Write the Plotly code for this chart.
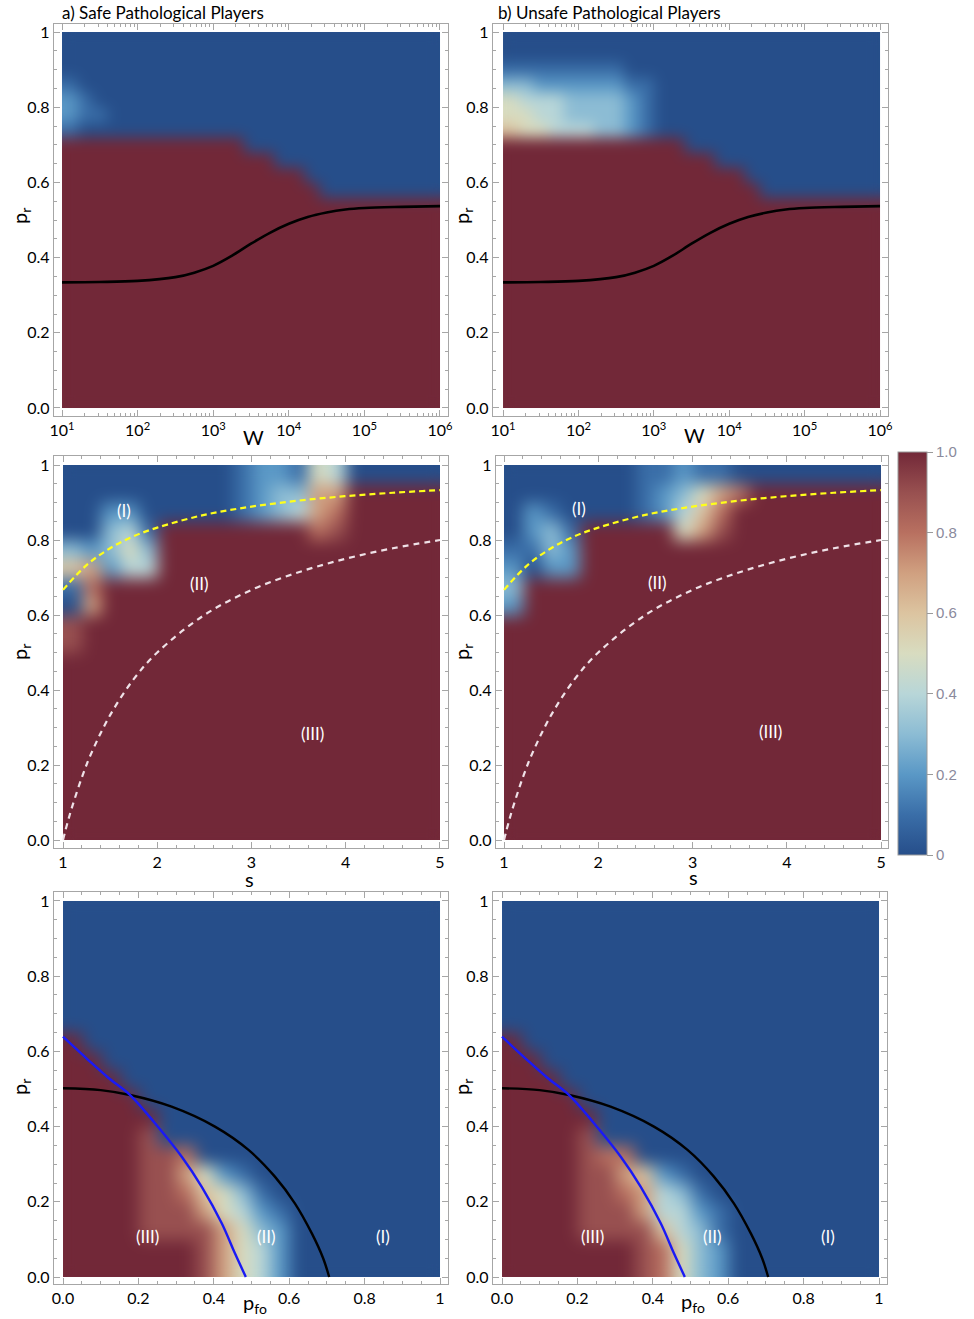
import plotly.graph_objects as go

FIG_W, FIG_H = 974, 1319
FONT = "Lato"

# ---------------- tick labels ----------------
PR_TICKS = [0, 0.2, 0.4, 0.6, 0.8, 1]
PR_TICKTEXT = ["0.0", "0.2", "0.4", "0.6", "0.8", "1"]
W_EXP_TICKS = [1, 2, 3, 4, 5, 6]
W_TICKTEXT = ["10<sup>1</sup>", "10<sup>2</sup>", "10<sup>3</sup>",
              "10<sup>4</sup>", "10<sup>5</sup>", "10<sup>6</sup>"]
S_TICKS = [1, 2, 3, 4, 5]
S_TICKTEXT = ["1", "2", "3", "4", "5"]
PFO_TICKS = [0, 0.2, 0.4, 0.6, 0.8, 1]
PFO_TICKTEXT = ["0.0", "0.2", "0.4", "0.6", "0.8", "1"]
CB_TICKS = [0, 0.2, 0.4, 0.6, 0.8, 1]
CB_TICKTEXT = ["0", "0.2", "0.4", "0.6", "0.8", "1.0"]

# ---------------- heat-map grids ----------------
# one character per cell: "0".."9" -> 0.0..0.9, "X" -> 1.0 ; rows listed from top (p_r high) to bottom
LEVEL = {"0": 0.0, "1": 0.1, "2": 0.2, "3": 0.3, "4": 0.4, "5": 0.5,
         "6": 0.6, "7": 0.7, "8": 0.8, "9": 0.9, "X": 1.0}

# W panels: 25 columns log10(W) centres 1.1..5.9 (step 0.2), 25 rows p_r centres 0.98..0.02 (step 0.04)
W_X0, W_DX = 1.1, 0.2
W_Y0, W_DY = 0.02, 0.04
GRID_A = [
    "0000000000000000000000000",
    "0000000000000000000000000",
    "0000000000000000000000000",
    "1000000000000000000000000",
    "2100000000000000000000000",
    "2110000000000000000000000",
    "1000000000000000000000000",
    "XXXXXXXXXXXX0000000000000",
    "XXXXXXXXXXXXXX00000000000",
    "XXXXXXXXXXXXXXXX000000000",
    "XXXXXXXXXXXXXXXXX00000000",
    "XXXXXXXXXXXXXXXXXXXXXXXXX",
    "XXXXXXXXXXXXXXXXXXXXXXXXX",
    "XXXXXXXXXXXXXXXXXXXXXXXXX",
    "XXXXXXXXXXXXXXXXXXXXXXXXX",
    "XXXXXXXXXXXXXXXXXXXXXXXXX",
    "XXXXXXXXXXXXXXXXXXXXXXXXX",
    "XXXXXXXXXXXXXXXXXXXXXXXXX",
    "XXXXXXXXXXXXXXXXXXXXXXXXX",
    "XXXXXXXXXXXXXXXXXXXXXXXXX",
    "XXXXXXXXXXXXXXXXXXXXXXXXX",
    "XXXXXXXXXXXXXXXXXXXXXXXXX",
    "XXXXXXXXXXXXXXXXXXXXXXXXX",
    "XXXXXXXXXXXXXXXXXXXXXXXXX",
    "XXXXXXXXXXXXXXXXXXXXXXXXX",
]
GRID_B = [
    "0000000000000000000000000",
    "0000000000000000000000000",
    "1111111100000000000000000",
    "3322222211000000000000000",
    "5444333321000000000000000",
    "5544333321000000000000000",
    "6554443321000000000000000",
    "XXXXXXXXXXXX0000000000000",
    "XXXXXXXXXXXXXX00000000000",
    "XXXXXXXXXXXXXXXX000000000",
    "XXXXXXXXXXXXXXXXX00000000",
    "XXXXXXXXXXXXXXXXXXXXXXXXX",
    "XXXXXXXXXXXXXXXXXXXXXXXXX",
    "XXXXXXXXXXXXXXXXXXXXXXXXX",
    "XXXXXXXXXXXXXXXXXXXXXXXXX",
    "XXXXXXXXXXXXXXXXXXXXXXXXX",
    "XXXXXXXXXXXXXXXXXXXXXXXXX",
    "XXXXXXXXXXXXXXXXXXXXXXXXX",
    "XXXXXXXXXXXXXXXXXXXXXXXXX",
    "XXXXXXXXXXXXXXXXXXXXXXXXX",
    "XXXXXXXXXXXXXXXXXXXXXXXXX",
    "XXXXXXXXXXXXXXXXXXXXXXXXX",
    "XXXXXXXXXXXXXXXXXXXXXXXXX",
    "XXXXXXXXXXXXXXXXXXXXXXXXX",
    "XXXXXXXXXXXXXXXXXXXXXXXXX",
]

# s panels: 20 columns s centres 1.1..4.9 (step 0.2), 20 rows p_r centres 0.975..0.025 (step 0.05)
S_X0, S_DX = 1.1, 0.2
S_Y0, S_DY = 0.025, 0.05
GRID_C = [
    "00000000012215400000",
    "000000000123377XXXXX",
    "002200000123478XXXXX",
    "00341XXXXXXXX89XXXXX",
    "32353XXXXXXXXXXXXXXX",
    "67244XXXXXXXXXXXXXXX",
    "18XXXXXXXXXXXXXXXXXX",
    "07XXXXXXXXXXXXXXXXXX",
    "9XXXXXXXXXXXXXXXXXXX",
    "9XXXXXXXXXXXXXXXXXXX",
    "XXXXXXXXXXXXXXXXXXXX",
    "XXXXXXXXXXXXXXXXXXXX",
    "XXXXXXXXXXXXXXXXXXXX",
    "XXXXXXXXXXXXXXXXXXXX",
    "XXXXXXXXXXXXXXXXXXXX",
    "XXXXXXXXXXXXXXXXXXXX",
    "XXXXXXXXXXXXXXXXXXXX",
    "XXXXXXXXXXXXXXXXXXXX",
    "XXXXXXXXXXXXXXXXXXXX",
    "XXXXXXXXXXXXXXXXXXXX",
]
GRID_D = [
    "00000001121100000000",
    "0000000123578XXXXXXX",
    "021000012468XXXXXXXX",
    "0231XXXXX579XXXXXXXX",
    "1132XXXXXXXXXXXXXXXX",
    "2022XXXXXXXXXXXXXXXX",
    "3XXXXXXXXXXXXXXXXXXX",
    "2XXXXXXXXXXXXXXXXXXX",
    "XXXXXXXXXXXXXXXXXXXX",
    "XXXXXXXXXXXXXXXXXXXX",
    "XXXXXXXXXXXXXXXXXXXX",
    "XXXXXXXXXXXXXXXXXXXX",
    "XXXXXXXXXXXXXXXXXXXX",
    "XXXXXXXXXXXXXXXXXXXX",
    "XXXXXXXXXXXXXXXXXXXX",
    "XXXXXXXXXXXXXXXXXXXX",
    "XXXXXXXXXXXXXXXXXXXX",
    "XXXXXXXXXXXXXXXXXXXX",
    "XXXXXXXXXXXXXXXXXXXX",
    "XXXXXXXXXXXXXXXXXXXX",
]

# p_fo panels: 20 columns p_fo centres 0.025..0.975, 20 rows p_r centres 0.975..0.025
P_X0, P_DX = 0.025, 0.05
P_Y0, P_DY = 0.025, 0.05
GRID_E = [
    "00000000000000000000",
    "00000000000000000000",
    "00000000000000000000",
    "00000000000000000000",
    "00000000000000000000",
    "00000000000000000000",
    "00000000000000000000",
    "X0000000000000000000",
    "XX000000000000000000",
    "XXX00000000000000000",
    "XXXX0000000000000000",
    "XXXXX000000000000000",
    "XXXX9000000000000000",
    "XXXX9980000000000000",
    "XXXX9975210000000000",
    "XXXX9986531000000000",
    "XXXX9997542100000000",
    "XXXX9999753200000000",
    "XXXXXXX9754200000000",
    "XXXXXXX9754200000000",
]
GRID_F = [
    "00000000000000000000",
    "00000000000000000000",
    "00000000000000000000",
    "00000000000000000000",
    "00000000000000000000",
    "00000000000000000000",
    "00000000000000000000",
    "X0000000000000000000",
    "XX000000000000000000",
    "XXX00000000000000000",
    "XXXX0000000000000000",
    "XXXXX000000000000000",
    "XXXX9000000000000000",
    "XXXX9880000000000000",
    "XXXX9976210000000000",
    "XXXX9987431000000000",
    "XXXX9997442100000000",
    "XXXX9999643100000000",
    "XXXXXXX9853200000000",
    "XXXXXXX9853200000000",
]

# ---------------- curves ----------------
W_CURVE_LOGW = [1.0, 1.5, 2.0, 2.5, 2.75, 3.0, 3.25, 3.5, 3.75, 4.0, 4.25, 4.5, 4.75, 5.0, 5.5, 6.0]
W_CURVE_PR = [0.334, 0.335, 0.338, 0.348, 0.360, 0.378, 0.405, 0.437, 0.466, 0.490,
              0.508, 0.520, 0.528, 0.532, 0.535, 0.537]

YELLOW_S = [1.0, 1.25, 1.5, 1.75, 2.0, 2.5, 3.0, 3.5, 4.0, 4.5, 5.0]
YELLOW_PR = [0.667, 0.733, 0.778, 0.810, 0.833, 0.867, 0.889, 0.905, 0.917, 0.926, 0.933]

WHITE_S = [1.0, 1.05, 1.1, 1.2, 1.3, 1.5, 1.75, 2.0, 2.5, 3.0, 3.5, 4.0, 4.5, 5.0]
WHITE_PR = [0.0, 0.048, 0.091, 0.167, 0.231, 0.333, 0.429, 0.5, 0.6, 0.667, 0.714, 0.75, 0.778, 0.8]

BLUE_PFO = [0.0, 0.067, 0.12, 0.178, 0.244, 0.315, 0.368, 0.421, 0.456, 0.485]
BLUE_PR = [0.639, 0.577, 0.53, 0.484, 0.409, 0.32, 0.24, 0.143, 0.063, 0.0]

BLACK_PFO = [0.0, 0.1, 0.178, 0.288, 0.403, 0.492, 0.562, 0.615, 0.66, 0.69, 0.706]
BLACK_PR = [0.502, 0.497, 0.484, 0.453, 0.40, 0.338, 0.267, 0.196, 0.116, 0.05, 0.0]

COLORSCALE = [
    [0.0, "rgb(38,78,138)"],
    [0.1, "rgb(58,110,168)"],
    [0.2, "rgb(90,152,198)"],
    [0.3, "rgb(140,188,212)"],
    [0.4, "rgb(184,214,216)"],
    [0.5, "rgb(216,220,192)"],
    [0.6, "rgb(220,196,160)"],
    [0.7, "rgb(208,160,128)"],
    [0.8, "rgb(184,112,96)"],
    [0.9, "rgb(152,80,80)"],
    [1.0, "rgb(114,40,56)"],
]


def decode(rows):
    return [[LEVEL[ch] for ch in row] for row in reversed(rows)]


def xdom(a, b):
    return [a / FIG_W, b / FIG_W]


def ydom(a, b):
    return [1 - b / FIG_H, 1 - a / FIG_H]


fig = go.Figure()

panels = [
    # (grid, x0, dx, y0, dy, frame x px, frame y px, xrange, yrange)
    (GRID_A, W_X0, W_DX, W_Y0, W_DY, (54, 448), (24, 416), [0.894, 6.106], [-0.0213, 1.0213]),
    (GRID_B, W_X0, W_DX, W_Y0, W_DY, (493, 888), (24, 416), [0.867, 6.106], [-0.0213, 1.0213]),
    (GRID_C, S_X0, S_DX, S_Y0, S_DY, (54, 448), (456, 848), [0.9045, 5.085], [-0.0213, 1.024]),
    (GRID_D, S_X0, S_DX, S_Y0, S_DY, (496, 888), (456, 848), [0.915, 5.074], [-0.0213, 1.024]),
    (GRID_E, P_X0, P_DX, P_Y0, P_DY, (54, 448), (892, 1284), [-0.0239, 1.0212], [-0.0186, 1.0239]),
    (GRID_F, P_X0, P_DX, P_Y0, P_DY, (493, 887), (892, 1284), [-0.0239, 1.0212], [-0.0186, 1.0239]),
]

frame_col = "#a6a6a6"
tickfont = dict(family=FONT, size=16, color="black")
W_MINOR = [d + m for d in range(1, 6) for m in
           [0.30103, 0.47712, 0.60206, 0.69897, 0.77815, 0.84510, 0.90309, 0.95424]]

layout_axes = {}
for i, (grid, x0, dx, y0, dy, fx, fy, xr, yr) in enumerate(panels):
    n = i + 1
    xa = "x" if n == 1 else f"x{n}"
    ya = "y" if n == 1 else f"y{n}"
    tr = go.Heatmap(
        z=decode(grid), x0=x0, dx=dx, y0=y0, dy=dy,
        zmin=0, zmax=1, colorscale=COLORSCALE, zsmooth="fast",
        xaxis=xa, yaxis=ya, hoverinfo="skip", showscale=(n == 1),
    )
    if n == 1:
        tr.colorbar = dict(
            x=898 / FIG_W, xanchor="left", y=1 - 653.5 / FIG_H, yanchor="middle",
            len=403, lenmode="pixels", thickness=29, thicknessmode="pixels",
            outlinewidth=1, outlinecolor="#9a9a9a", xpad=0, ypad=0,
            tickmode="array", tickvals=CB_TICKS, ticktext=CB_TICKTEXT,
            ticks="outside", ticklen=6, tickcolor="#9a9a9a",
            tickfont=dict(family="Liberation Sans", size=15, color="#8a8a9c"),
        )
    fig.add_trace(tr)

    if n in (1, 2):
        xt, xtt = W_EXP_TICKS, W_TICKTEXT
        minor_x = dict(ticks="inside", ticklen=3, tickcolor=frame_col, tickvals=W_MINOR, showgrid=False)
    elif n in (3, 4):
        xt, xtt = S_TICKS, S_TICKTEXT
        minor_x = dict(ticks="inside", ticklen=3, tickcolor=frame_col, dtick=0.2, tick0=0, showgrid=False)
    else:
        xt, xtt = PFO_TICKS, PFO_TICKTEXT
        minor_x = dict(ticks="inside", ticklen=3, tickcolor=frame_col, dtick=0.05, tick0=0, showgrid=False)

    common = dict(showline=True, linecolor=frame_col, linewidth=1.3, mirror="ticks",
                  ticks="inside", ticklen=6, tickcolor=frame_col, tickwidth=1,
                  showgrid=False, zeroline=False, tickfont=tickfont, fixedrange=True,
                  automargin=False)
    layout_axes["xaxis" if n == 1 else f"xaxis{n}"] = dict(
        domain=xdom(*fx), anchor=ya, range=xr, tickmode="array", tickvals=xt, ticktext=xtt,
        minor=minor_x, **common)
    layout_axes["yaxis" if n == 1 else f"yaxis{n}"] = dict(
        domain=ydom(*fy), anchor=xa, range=yr, tickmode="array", tickvals=PR_TICKS,
        ticktext=PR_TICKTEXT,
        minor=dict(ticks="inside", ticklen=3, tickcolor=frame_col, dtick=0.05, tick0=0, showgrid=False),
        **common)

    # overlay curves
    if n in (1, 2):
        fig.add_trace(go.Scatter(x=W_CURVE_LOGW, y=W_CURVE_PR, mode="lines",
                                 line=dict(color="black", width=2.6, shape="spline"),
                                 xaxis=xa, yaxis=ya, hoverinfo="skip", showlegend=False))
    elif n in (3, 4):
        fig.add_trace(go.Scatter(x=YELLOW_S, y=YELLOW_PR, mode="lines",
                                 line=dict(color="#ffff1a", width=2.2, dash="6px,4px", shape="spline"),
                                 xaxis=xa, yaxis=ya, hoverinfo="skip", showlegend=False))
        fig.add_trace(go.Scatter(x=WHITE_S, y=WHITE_PR, mode="lines",
                                 line=dict(color="rgba(245,235,240,0.95)", width=2.2, dash="6px,5px",
                                           shape="spline"),
                                 xaxis=xa, yaxis=ya, hoverinfo="skip", showlegend=False))
    else:
        fig.add_trace(go.Scatter(x=BLACK_PFO, y=BLACK_PR, mode="lines",
                                 line=dict(color="black", width=2.4, shape="spline"),
                                 xaxis=xa, yaxis=ya, hoverinfo="skip", showlegend=False))
        fig.add_trace(go.Scatter(x=BLUE_PFO, y=BLUE_PR, mode="lines",
                                 line=dict(color="#1a1af5", width=2.4, shape="spline"),
                                 xaxis=xa, yaxis=ya, hoverinfo="skip", showlegend=False))

ann = []
# panel titles
ann.append(dict(text="a) Safe Pathological Players", x=60 / FIG_W, y=1 - 13 / FIG_H,
                xref="paper", yref="paper", xanchor="left", yanchor="middle", showarrow=False,
                font=dict(family=FONT, size=17, color="black")))
ann.append(dict(text="b) Unsafe Pathological Players", x=496 / FIG_W, y=1 - 13 / FIG_H,
                xref="paper", yref="paper", xanchor="left", yanchor="middle", showarrow=False,
                font=dict(family=FONT, size=17, color="black")))

# axis titles
title_font = dict(family=FONT, size=20, color="black")
for (px, py) in [(20, 216), (462, 216), (20, 652), (462, 652), (20, 1087), (462, 1087)]:
    ann.append(dict(text="p<sub>r</sub>", x=px / FIG_W, y=1 - py / FIG_H, xref="paper", yref="paper",
                    textangle=-90, showarrow=False, font=title_font,
                    xanchor="center", yanchor="middle"))
for (txt, px, py) in [("W", 253, 437), ("W", 694, 435), ("s", 250, 879), ("s", 693, 877),
                      ("p<sub>fo</sub>", 255, 1303), ("p<sub>fo</sub>", 693, 1302)]:
    ann.append(dict(text=txt, x=px / FIG_W, y=1 - py / FIG_H, xref="paper", yref="paper",
                    showarrow=False, font=title_font, xanchor="center", yanchor="middle"))

# region labels
REGION_LABELS = [
    ("x3", "y3", "(I)", 1.647, 0.88), ("x3", "y3", "(II)", 2.45, 0.685), ("x3", "y3", "(III)", 3.65, 0.285),
    ("x4", "y4", "(I)", 1.80, 0.885), ("x4", "y4", "(II)", 2.63, 0.688), ("x4", "y4", "(III)", 3.83, 0.29),
    ("x5", "y5", "(III)", 0.225, 0.107), ("x5", "y5", "(II)", 0.54, 0.107), ("x5", "y5", "(I)", 0.85, 0.107),
    ("x6", "y6", "(III)", 0.241, 0.107), ("x6", "y6", "(II)", 0.557, 0.107), ("x6", "y6", "(I)", 0.865, 0.107),
]
for xr_, yr_, txt, xv, yv in REGION_LABELS:
    ann.append(dict(text=txt, x=xv, y=yv, xref=xr_, yref=yr_, showarrow=False,
                    font=dict(family=FONT, size=17, color="white"), xanchor="center", yanchor="middle"))

fig.update_layout(
    width=FIG_W, height=FIG_H, autosize=False,
    margin=dict(l=0, r=0, t=0, b=0, autoexpand=False),
    paper_bgcolor="white", plot_bgcolor="white",
    showlegend=False, annotations=ann,
    **layout_axes,
)

# page without default body margin + soft colour blending of the density cells
PAGE_JS = """
document.documentElement.style.margin = '0';
document.body.style.margin = '0';
document.body.style.padding = '0';
var gd = document.getElementById('{plot_id}');
function softenCells() {
  var ns = 'http://www.w3.org/2000/svg';
  var svg = gd.querySelector('svg.main-svg');
  if (!svg) return;
  if (!document.getElementById('hm-soft')) {
    var defs = svg.querySelector('defs');
    if (!defs) { defs = document.createElementNS(ns, 'defs'); svg.insertBefore(defs, svg.firstChild); }
    var f = document.createElementNS(ns, 'filter');
    f.setAttribute('id', 'hm-soft');
    f.setAttribute('x', '-5%'); f.setAttribute('y', '-5%');
    f.setAttribute('width', '110%'); f.setAttribute('height', '110%');
    f.setAttribute('color-interpolation-filters', 'sRGB');
    var b = document.createElementNS(ns, 'feGaussianBlur');
    b.setAttribute('in', 'SourceGraphic'); b.setAttribute('stdDeviation', '6 5.5');
    b.setAttribute('result', 'blur');
    var ct = document.createElementNS(ns, 'feComponentTransfer');
    ct.setAttribute('in', 'blur'); ct.setAttribute('result', 'opaque');
    var fa = document.createElementNS(ns, 'feFuncA');
    fa.setAttribute('type', 'linear'); fa.setAttribute('slope', '0'); fa.setAttribute('intercept', '1');
    ct.appendChild(fa);
    var comp = document.createElementNS(ns, 'feComposite');
    comp.setAttribute('in', 'opaque'); comp.setAttribute('in2', 'SourceAlpha'); comp.setAttribute('operator', 'in');
    f.appendChild(b); f.appendChild(ct); f.appendChild(comp);
    defs.appendChild(f);
  }
  var ims = gd.querySelectorAll('.heatmaplayer image, g.hm image');
  for (var i = 0; i < ims.length; i++) {
    ims[i].setAttribute('filter', 'url(#hm-soft)');
    ims[i].style.filter = 'url(#hm-soft)';
  }
}
try { softenCells(); } catch (e) {}
if (gd && gd.on) { gd.on('plotly_afterplot', function () { try { softenCells(); } catch (e) {} }); }
"""

fig.write_html("out.html", post_script=PAGE_JS, config={"displayModeBar": False})
